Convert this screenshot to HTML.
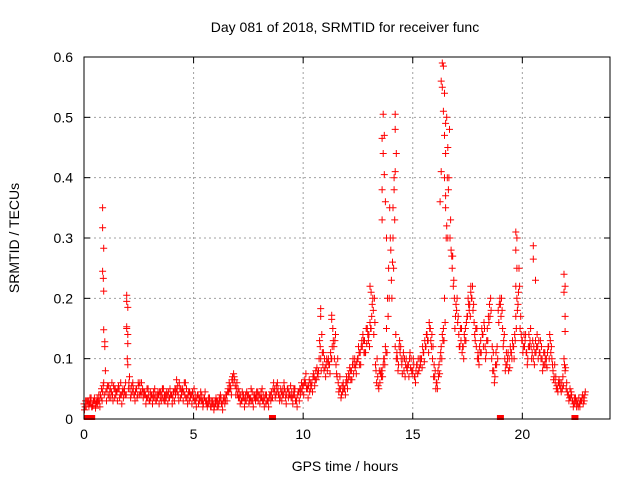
<!DOCTYPE html>
<html><head><meta charset="utf-8"><style>
body{margin:0;background:#fff}
svg{display:block;font-family:"Liberation Sans",sans-serif}
</style></head><body>
<svg id="chart" width="640" height="480" viewBox="0 0 640 480">
<text x="345" y="32" text-anchor="middle" font-size="14">Day 081 of 2018, SRMTID for receiver func</text>
<text transform="translate(19,238) rotate(-90)" text-anchor="middle" font-size="14">SRMTID / TECUs</text>
<text x="345" y="471" text-anchor="middle" font-size="14">GPS time / hours</text>
<g id="grid"></g>
<g id="ticks"></g>
<g id="marks"></g>
<rect x="84" y="57" width="526" height="362" fill="none" stroke="#000" stroke-width="1"/>
</svg>
<script>
const xTicks=[0,5,10,15,20];
const yTicks=[0,0.1,0.2,0.3,0.4,0.5,0.6];
const yTickLabels=["0","0.1","0.2","0.3","0.4","0.5","0.6"];
const seriesA=[.025,.02,.03,.028,.022,.03,.035,.03,.05,.06,
.045,.04,.05,.04,.035,.045,.05,.04,.035,.06,
.09,.05,.045,.04,.05,.055,.04,.035,.04,.035,
.03,.04,.035,.03,.04,.045,.035,.03,.04,.035,
.04,.045,.05,.04,.035,.05,.04,.035,.03,.04,
.035,.03,.04,.035,.03,.035,.03,.025,.02,.025,
.025,.03,.03,.025,.035,.04,.045,.05,.06,.055,
.04,.035,.03,.035,.03,.04,.035,.03,.04,.035,
.04,.035,.03,.025,.03,.04,.035,.05,.045,.04,
.045,.04,.035,.05,.04,.035,.04,.03,.045,.05,
.055,.06,.05,.045,.06,.07,.065,.08,.1,.09,
.085,.08,.09,.1,.12,.09,.06,.05,.045,.05,
.06,.07,.08,.075,.09,.1,.11,.12,.13,.125,
.14,.15,.18,.09,.07,.06,.08,.1,.15,.25,
.28,.3,.12,.1,.13,.09,.08,.1,.09,.085,
.08,.07,.09,.085,.1,.11,.12,.13,.15,.1,
.07,.06,.09,.12,.15,.35,.45,.3,.25,.2,
.18,.14,.13,.12,.15,.17,.19,.2,.16,.12,
.1,.13,.14,.12,.15,.19,.1,.08,.11,.18,
.19,.15,.1,.09,.1,.11,.12,.17,.19,.15,
.13,.12,.11,.14,.12,.1,.13,.12,.11,.1,
.09,.1,.12,.11,.08,.06,.05,.055,.06,.1,
.05,.04,.035,.03,.025,.03,.025,.03,.035];
const seriesB=[.02,.03,.025,.02,.03,.025,.03,.04,.045,.12,
.05,.035,.045,.055,.04,.05,.04,.045,.05,.15,
.06,.04,.05,.045,.04,.06,.045,.04,.035,.04,
.035,.035,.04,.035,.045,.04,.03,.035,.045,.04,
.035,.05,.045,.06,.04,.045,.035,.04,.035,.045,
.03,.035,.035,.03,.025,.03,.025,.03,.025,.02,
.03,.025,.035,.03,.03,.045,.05,.065,.07,.05,
.035,.04,.035,.03,.04,.035,.03,.04,.035,.03,
.035,.03,.035,.03,.035,.045,.06,.04,.05,.035,
.04,.05,.04,.045,.035,.04,.03,.04,.05,.045,
.06,.05,.055,.05,.07,.065,.075,.13,.14,.08,
.09,.1,.11,.15,.13,.07,.05,.04,.05,.06,
.065,.08,.09,.1,.095,.11,.12,.13,.11,.14,
.16,.19,.2,.06,.05,.08,.09,.12,.2,.35,
.2,.4,.1,.09,.12,.1,.07,.08,.1,.08,
.09,.08,.1,.09,.12,.13,.14,.16,.12,.07,
.05,.08,.1,.14,.2,.5,.4,.28,.22,.17,
.16,.12,.11,.14,.16,.19,.21,.18,.13,.1,
.12,.15,.16,.11,.17,.2,.08,.07,.12,.19,
.2,.13,.09,.11,.12,.13,.14,.2,.25,.14,
.12,.14,.1,.13,.11,.09,.12,.13,.1,.09,
.1,.11,.14,.1,.07,.05,.06,.05,.07,.08,
.045,.035,.04,.025,.03,.02,.03,.04,.04];
const seriesC=[.015,.03,.02,.035,.03,.018,.025,.02,.03,.04,
.03,.055,.035,.03,.05,.03,.035,.025,.045,.04,
.05,.035,.06,.03,.035,.04,.06,.045,.025,.05,
.045,.025,.05,.04,.025,.03,.05,.04,.025,.05,
.025,.03,.065,.03,.05,.03,.06,.025,.045,.025,
.05,.02,.025,.045,.02,.045,.02,.035,.03,.015,
.035,.02,.04,.015,.025,.03,.06,.04,.075,.04,
.05,.025,.045,.02,.045,.025,.05,.02,.03,.045,
.025,.05,.02,.04,.02,.03,.05,.035,.06,.03,
.03,.06,.025,.035,.055,.025,.05,.02,.03,.06,
.04,.075,.035,.06,.045,.055,.085,.1,.08,.11,
.07,.095,.075,.12,.1,.075,.045,.035,.06,.04,
.05,.085,.065,.09,.075,.12,.09,.14,.11,.15,
.12,.17,.14,.08,.055,.075,.07,.09,.11,.2,
.23,.25,.14,.08,.11,.075,.1,.085,.07,.1,
.1,.06,.075,.1,.085,.095,.14,.11,.13,.12,
.08,.05,.075,.1,.13,.3,.38,.33,.27,.15,
.2,.12,.15,.1,.13,.2,.17,.22,.14,.15,
.09,.11,.12,.1,.13,.17,.12,.06,.09,.16,
.17,.12,.08,.1,.085,.1,.1,.15,.21,.17,
.11,.13,.09,.12,.1,.12,.11,.1,.13,.08,
.11,.085,.1,.12,.065,.07,.045,.06,.05,.09,
.06,.03,.045,.02,.035,.025,.02,.035,.03];
const seriesD=[.03,.025,.035,.02,.035,.028,.04,.035,.055,.08,
.055,.045,.06,.05,.045,.055,.06,.05,.04,.1,
.07,.055,.04,.05,.06,.045,.05,.045,.05,.03,
.04,.045,.03,.045,.035,.05,.04,.045,.035,.04,
.045,.04,.055,.05,.045,.06,.05,.045,.04,.035,
.04,.04,.03,.04,.035,.025,.035,.02,.03,.03,
.02,.035,.025,.035,.04,.05,.055,.07,.065,.06,
.045,.03,.04,.04,.035,.03,.045,.035,.045,.04,
.045,.04,.04,.03,.04,.035,.045,.055,.04,.05,
.05,.045,.05,.04,.045,.05,.035,.045,.04,.055,
.065,.055,.065,.055,.075,.08,.07,.12,.11,.1,
.1,.09,.1,.13,.14,.1,.07,.055,.05,.07,
.075,.065,.1,.085,.1,.09,.13,.11,.15,.13,
.15,.2,.16,.1,.08,.07,.1,.11,.17,.3,
.26,.33,.11,.12,.1,.11,.09,.09,.11,.075,
.07,.09,.08,.1,.11,.12,.13,.15,.14,.09,
.06,.07,.11,.13,.16,.4,.48,.27,.23,.19,
.17,.15,.12,.13,.17,.18,.2,.19,.15,.11,
.11,.14,.15,.13,.16,.18,.11,.09,.1,.2,
.18,.14,.11,.08,.11,.12,.13,.18,.22,.13,
.14,.11,.12,.15,.13,.11,.14,.11,.12,.11,
.09,.12,.13,.09,.09,.055,.065,.045,.055,.085,
.04,.05,.03,.035,.02,.035,.03,.025,.045];
const stepHours=0.1;
const spikeX=[0.85,0.85,0.9,0.85,0.88,0.9,0.9,0.95,1.95,1.95,2.0,1.95,2.0,2.0,13.65,13.7,13.6,13.65,13.7,13.6,13.75,13.6,13.8,14.2,14.2,14.25,14.2,14.15,14.1,16.35,16.4,16.3,16.35,16.45,16.4,16.5,16.45,16.5,16.3,16.45,16.25,16.5,16.55,16.6,19.7,19.75,19.7,19.75,19.7,20.5,20.5,20.6,21.9,21.95,21.9,21.95,21.95,10.8,10.8,11.3,11.3,13.05,13.1,17.65,17.7];
const spikeY=[.35,.317,.283,.245,.233,.212,.148,.128,.205,.195,.185,.153,.14,.125,.505,.47,.465,.44,.405,.38,.36,.33,.3,.505,.48,.44,.41,.38,.35,.59,.585,.56,.55,.54,.51,.49,.47,.44,.41,.4,.36,.37,.32,.3,.31,.3,.28,.25,.22,.287,.265,.23,.24,.22,.21,.17,.145,.183,.17,.172,.165,.22,.21,.22,.2];
const zeroX=[0.15,0.35,8.6,19.0,22.4];

const NS="http://www.w3.org/2000/svg";
const X0=84,X1=610,Y0=419,Y1=57;
const sx=v=>X0+(v/24)*(X1-X0);
const sy=v=>Y0-(v/0.6)*(Y0-Y1);
const grid=document.getElementById('grid'),ticks=document.getElementById('ticks'),marks=document.getElementById('marks');
function line(p,x1,y1,x2,y2,st,dash){const l=document.createElementNS(NS,'line');l.setAttribute('x1',x1);l.setAttribute('y1',y1);l.setAttribute('x2',x2);l.setAttribute('y2',y2);l.setAttribute('stroke',st);if(dash)l.setAttribute('stroke-dasharray',dash);p.appendChild(l);return l;}
function txt(p,x,y,s,anchor){const t=document.createElementNS(NS,'text');t.setAttribute('x',x);t.setAttribute('y',y);t.setAttribute('font-size','14');t.setAttribute('text-anchor',anchor);t.textContent=s;p.appendChild(t);return t;}
xTicks.forEach(v=>{const x=sx(v);
 if(v>0){const g=line(grid,x,Y0,x,Y1,'#a0a0a0','2,3');}
 line(ticks,x,Y0,x,Y0-6,'#000');line(ticks,x,Y1,x,Y1+6,'#000');
 const t=txt(ticks,x,439,String(v),'middle');
 
 
});
yTicks.forEach((v,i)=>{const y=sy(v);
 if(v>0&&v<0.6){const g=line(grid,X0,y,X1,y,'#a0a0a0','2,3');}
 line(ticks,X0,y,X0+6,y,'#000');line(ticks,X1,y,X1-6,y,'#000');
 const t=txt(ticks,73,y+5,yTickLabels[i],'end');
 
 
});
let d='';
function plus(x,y){d+=`M${(x-3.5).toFixed(1)} ${y.toFixed(1)}h7M${x.toFixed(1)} ${(y-3.5).toFixed(1)}v7`;}
seriesA.forEach((v,i)=>plus(sx(i*stepHours),sy(v)));
seriesB.forEach((v,i)=>plus(sx(i*stepHours+stepHours/2),sy(v)));
seriesC.forEach((v,i)=>plus(sx(i*stepHours+stepHours/4),sy(v)));
seriesD.forEach((v,i)=>plus(sx(i*stepHours+stepHours*3/4),sy(v)));
spikeX.forEach((x,i)=>plus(sx(x),sy(spikeY[i])));
const p=document.createElementNS(NS,'path');
p.setAttribute('d',d);p.setAttribute('stroke','#ff0000');p.setAttribute('stroke-width','1');p.setAttribute('fill','none');


marks.appendChild(p);
zeroX.forEach(x=>{const r=document.createElementNS(NS,'rect');
 r.setAttribute('x',sx(x)-3.5);r.setAttribute('y',Y0-4);r.setAttribute('width',7);r.setAttribute('height',5);r.setAttribute('fill','#ff0000');
 
 
 marks.appendChild(r);});
</script>
</body></html>
